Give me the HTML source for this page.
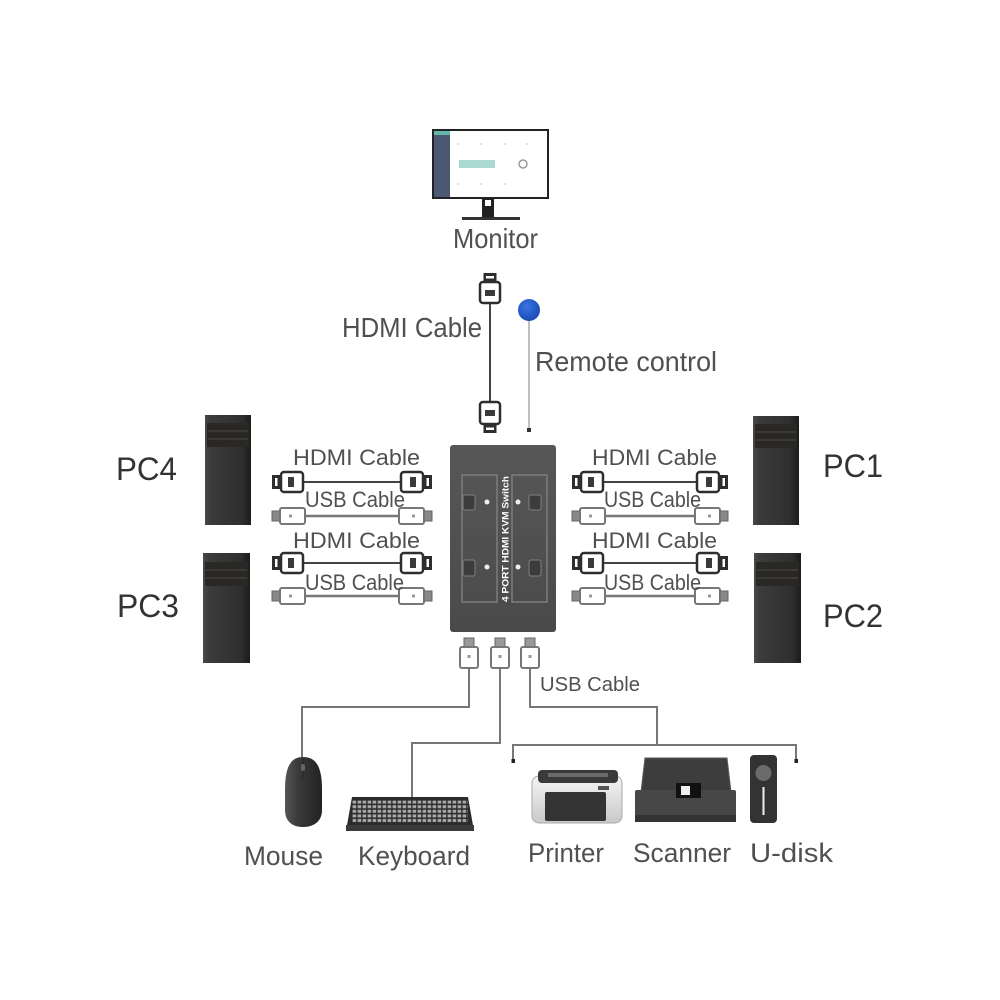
<!DOCTYPE html>
<html>
<head>
<meta charset="utf-8">
<style>
html,body{margin:0;padding:0;background:#fff;}
svg{display:block;}
text{font-family:"Liberation Sans",Arial,sans-serif;}
</style>
</head>
<body>
<svg width="1000" height="1000" viewBox="0 0 1000 1000" xmlns="http://www.w3.org/2000/svg">
<defs>
  <linearGradient id="tower" x1="0" y1="0" x2="1" y2="0">
    <stop offset="0" stop-color="#4a4a4a"/>
    <stop offset="0.12" stop-color="#3b3b3b"/>
    <stop offset="0.8" stop-color="#2f2f2f"/>
    <stop offset="1" stop-color="#1c1c1c"/>
  </linearGradient>
  <linearGradient id="kvm" x1="0" y1="0" x2="0" y2="1">
    <stop offset="0" stop-color="#575757"/>
    <stop offset="1" stop-color="#4a4a4a"/>
  </linearGradient>
  <linearGradient id="mouse" x1="0" y1="0" x2="1" y2="0">
    <stop offset="0" stop-color="#555"/>
    <stop offset="0.35" stop-color="#3a3a3a"/>
    <stop offset="1" stop-color="#222"/>
  </linearGradient>
  <linearGradient id="printer" x1="0" y1="0" x2="0" y2="1">
    <stop offset="0" stop-color="#f4f4f4"/>
    <stop offset="1" stop-color="#c9c9c9"/>
  </linearGradient>
  <radialGradient id="blue" cx="0.4" cy="0.35" r="0.7">
    <stop offset="0" stop-color="#3a74e0"/>
    <stop offset="1" stop-color="#1747b5"/>
  </radialGradient>
  <pattern id="keys" x="352" y="800" width="5" height="4.6" patternUnits="userSpaceOnUse">
    <rect x="0.6" y="0.6" width="3.6" height="3" fill="#a8a8a8"/>
  </pattern>
</defs>

<rect width="1000" height="1000" fill="#fff"/>

<!-- Monitor -->
<rect x="433" y="130" width="115" height="68" fill="#fff" stroke="#222" stroke-width="2"/>
<rect x="434" y="131" width="16" height="66" fill="#4d5873"/>
<rect x="434" y="131" width="16" height="4" fill="#62b9a9"/>
<g fill="#d6d6d6">
  <circle cx="458" cy="144" r="1"/><circle cx="481" cy="144" r="1"/><circle cx="505" cy="144" r="1"/><circle cx="527" cy="144" r="1"/>
  <circle cx="458" cy="184" r="1"/><circle cx="481" cy="184" r="1"/><circle cx="505" cy="184" r="1"/>
</g>
<rect x="459" y="160" width="36" height="8" fill="#a9d9cf"/>
<circle cx="523" cy="164" r="4" fill="none" stroke="#999" stroke-width="1.5"/>
<rect x="482" y="198" width="12" height="20" fill="#222"/>
<rect x="485" y="200" width="6" height="6" fill="#fff"/>
<rect x="462" y="217" width="58" height="3" fill="#333"/>
<text x="453" y="248" font-size="28" fill="#505050" textLength="85" lengthAdjust="spacingAndGlyphs">Monitor</text>

<!-- Top HDMI cable -->
<line x1="490" y1="303" x2="490" y2="402" stroke="#444" stroke-width="2"/>
<rect x="483.5" y="273" width="13" height="9" fill="#2e2e2e"/>
<rect x="486" y="276" width="8" height="2.5" fill="#fff"/>
<rect x="480" y="282" width="20" height="21" rx="3" fill="#fff" stroke="#2e2e2e" stroke-width="2.5"/>
<rect x="485" y="290" width="10" height="6" fill="#3a3a3a"/>
<rect x="480" y="402" width="20" height="22" rx="3" fill="#fff" stroke="#2e2e2e" stroke-width="2.5"/>
<rect x="485" y="410" width="10" height="6" fill="#3a3a3a"/>
<rect x="483.5" y="424" width="13" height="9" fill="#2e2e2e"/>
<rect x="486" y="427.5" width="8" height="2.5" fill="#fff"/>
<text x="342" y="337" font-size="28" fill="#505050" textLength="140" lengthAdjust="spacingAndGlyphs">HDMI Cable</text>

<!-- Remote control -->
<line x1="529" y1="320" x2="529" y2="430" stroke="#aaa" stroke-width="1.5"/>
<rect x="527" y="428" width="4" height="4" fill="#333"/>
<circle cx="529" cy="310" r="11" fill="url(#blue)"/>
<text x="535" y="371" font-size="28" fill="#505050" textLength="182" lengthAdjust="spacingAndGlyphs">Remote control</text>

<!-- KVM box -->
<rect x="450" y="445" width="106" height="187" rx="3" fill="url(#kvm)"/>
<rect x="462" y="475" width="35" height="127" fill="none" stroke="#7c7c7c" stroke-width="1.5"/>
<rect x="512" y="475" width="35" height="127" fill="none" stroke="#7c7c7c" stroke-width="1.5"/>
<g fill="#3c3c3c" stroke="#808080" stroke-width="1">
  <rect x="463" y="495" width="12" height="15" rx="2"/>
  <rect x="463" y="560" width="12" height="16" rx="2"/>
  <rect x="529" y="495" width="12" height="15" rx="2"/>
  <rect x="529" y="560" width="12" height="16" rx="2"/>
</g>
<g fill="#eee">
  <circle cx="487" cy="502" r="2.5"/><circle cx="518" cy="502" r="2.5"/>
  <circle cx="487" cy="567" r="2.5"/><circle cx="518" cy="567" r="2.5"/>
</g>
<text x="0" y="0" font-size="9" font-weight="bold" fill="#fff" textLength="126" lengthAdjust="spacingAndGlyphs" transform="translate(508.5,602) rotate(-90)">4 PORT HDMI KVM Switch</text>

<!-- PC towers -->
<g>
  <rect x="205" y="415" width="46" height="110" fill="url(#tower)"/>
  <rect x="207" y="423" width="42" height="24" fill="#2a2825"/>
  <line x1="208" y1="431" x2="248" y2="431" stroke="#4a4a4a" stroke-width="1"/>
  <line x1="208" y1="439" x2="248" y2="439" stroke="#4a4a4a" stroke-width="1"/>
  <rect x="203" y="553" width="47" height="110" fill="url(#tower)"/>
  <rect x="205" y="562" width="43" height="24" fill="#2a2825"/>
  <line x1="206" y1="570" x2="247" y2="570" stroke="#4a4a4a" stroke-width="1"/>
  <line x1="206" y1="578" x2="247" y2="578" stroke="#4a4a4a" stroke-width="1"/>
  <rect x="753" y="416" width="46" height="109" fill="url(#tower)"/>
  <rect x="755" y="424" width="42" height="24" fill="#2a2825"/>
  <line x1="756" y1="432" x2="796" y2="432" stroke="#4a4a4a" stroke-width="1"/>
  <line x1="756" y1="440" x2="796" y2="440" stroke="#4a4a4a" stroke-width="1"/>
  <rect x="754" y="553" width="47" height="110" fill="url(#tower)"/>
  <rect x="756" y="562" width="43" height="24" fill="#2a2825"/>
  <line x1="757" y1="570" x2="798" y2="570" stroke="#4a4a4a" stroke-width="1"/>
  <line x1="757" y1="578" x2="798" y2="578" stroke="#4a4a4a" stroke-width="1"/>
</g>
<text x="116" y="480" font-size="32" fill="#333" textLength="61" lengthAdjust="spacingAndGlyphs">PC4</text>
<text x="117" y="617" font-size="32" fill="#333" textLength="62" lengthAdjust="spacingAndGlyphs">PC3</text>
<text x="823" y="477" font-size="32" fill="#333" textLength="60" lengthAdjust="spacingAndGlyphs">PC1</text>
<text x="823" y="627" font-size="32" fill="#333" textLength="60" lengthAdjust="spacingAndGlyphs">PC2</text>

<!-- Left side cables -->
<g>
  <line x1="303" y1="482" x2="401" y2="482" stroke="#444" stroke-width="2"/>
  <rect x="272" y="475" width="9" height="14" fill="#2e2e2e"/><rect x="275" y="478" width="2.5" height="8" fill="#fff"/>
  <rect x="281" y="472" width="22" height="20" rx="3" fill="#fff" stroke="#2e2e2e" stroke-width="2.5"/><rect x="288" y="477" width="6" height="10" fill="#3a3a3a"/>
  <rect x="401" y="472" width="22" height="20" rx="3" fill="#fff" stroke="#2e2e2e" stroke-width="2.5"/><rect x="410" y="477" width="6" height="10" fill="#3a3a3a"/>
  <rect x="423" y="475" width="9" height="14" fill="#2e2e2e"/><rect x="426.5" y="478" width="2.5" height="8" fill="#fff"/>

  <line x1="305" y1="516" x2="399" y2="516" stroke="#777" stroke-width="2.5"/>
  <rect x="272" y="511" width="8" height="10" fill="#888" stroke="#666" stroke-width="1"/>
  <rect x="280" y="508" width="25" height="16" rx="2" fill="#fff" stroke="#777" stroke-width="2"/><rect x="289" y="514.5" width="3" height="3" fill="#999"/>
  <rect x="399" y="508" width="25" height="16" rx="2" fill="#fff" stroke="#777" stroke-width="2"/><rect x="412" y="514.5" width="3" height="3" fill="#999"/>
  <rect x="424" y="511" width="8" height="10" fill="#888" stroke="#666" stroke-width="1"/>

  <line x1="303" y1="563" x2="401" y2="563" stroke="#444" stroke-width="2"/>
  <rect x="272" y="556" width="9" height="14" fill="#2e2e2e"/><rect x="275" y="559" width="2.5" height="8" fill="#fff"/>
  <rect x="281" y="553" width="22" height="20" rx="3" fill="#fff" stroke="#2e2e2e" stroke-width="2.5"/><rect x="288" y="558" width="6" height="10" fill="#3a3a3a"/>
  <rect x="401" y="553" width="22" height="20" rx="3" fill="#fff" stroke="#2e2e2e" stroke-width="2.5"/><rect x="410" y="558" width="6" height="10" fill="#3a3a3a"/>
  <rect x="423" y="556" width="9" height="14" fill="#2e2e2e"/><rect x="426.5" y="559" width="2.5" height="8" fill="#fff"/>

  <line x1="305" y1="596" x2="399" y2="596" stroke="#777" stroke-width="2.5"/>
  <rect x="272" y="591" width="8" height="10" fill="#888" stroke="#666" stroke-width="1"/>
  <rect x="280" y="588" width="25" height="16" rx="2" fill="#fff" stroke="#777" stroke-width="2"/><rect x="289" y="594.5" width="3" height="3" fill="#999"/>
  <rect x="399" y="588" width="25" height="16" rx="2" fill="#fff" stroke="#777" stroke-width="2"/><rect x="412" y="594.5" width="3" height="3" fill="#999"/>
  <rect x="424" y="591" width="8" height="10" fill="#888" stroke="#666" stroke-width="1"/>
</g>
<text x="293" y="465" font-size="22" fill="#505050" textLength="127" lengthAdjust="spacingAndGlyphs">HDMI Cable</text>
<text x="305" y="507" font-size="22" fill="#505050" textLength="100" lengthAdjust="spacingAndGlyphs">USB Cable</text>
<text x="293" y="548" font-size="22" fill="#505050" textLength="127" lengthAdjust="spacingAndGlyphs">HDMI Cable</text>
<text x="305" y="590" font-size="22" fill="#505050" textLength="99" lengthAdjust="spacingAndGlyphs">USB Cable</text>

<!-- Right side cables -->
<g>
  <line x1="603" y1="482" x2="697" y2="482" stroke="#444" stroke-width="2"/>
  <rect x="572" y="475" width="9" height="14" fill="#2e2e2e"/><rect x="575" y="478" width="2.5" height="8" fill="#fff"/>
  <rect x="581" y="472" width="22" height="20" rx="3" fill="#fff" stroke="#2e2e2e" stroke-width="2.5"/><rect x="588" y="477" width="6" height="10" fill="#3a3a3a"/>
  <rect x="697" y="472" width="22" height="20" rx="3" fill="#fff" stroke="#2e2e2e" stroke-width="2.5"/><rect x="706" y="477" width="6" height="10" fill="#3a3a3a"/>
  <rect x="719" y="475" width="9" height="14" fill="#2e2e2e"/><rect x="722.5" y="478" width="2.5" height="8" fill="#fff"/>

  <line x1="605" y1="516" x2="695" y2="516" stroke="#777" stroke-width="2.5"/>
  <rect x="572" y="511" width="8" height="10" fill="#888" stroke="#666" stroke-width="1"/>
  <rect x="580" y="508" width="25" height="16" rx="2" fill="#fff" stroke="#777" stroke-width="2"/><rect x="589" y="514.5" width="3" height="3" fill="#999"/>
  <rect x="695" y="508" width="25" height="16" rx="2" fill="#fff" stroke="#777" stroke-width="2"/><rect x="708" y="514.5" width="3" height="3" fill="#999"/>
  <rect x="720" y="511" width="8" height="10" fill="#888" stroke="#666" stroke-width="1"/>

  <line x1="603" y1="563" x2="697" y2="563" stroke="#444" stroke-width="2"/>
  <rect x="572" y="556" width="9" height="14" fill="#2e2e2e"/><rect x="575" y="559" width="2.5" height="8" fill="#fff"/>
  <rect x="581" y="553" width="22" height="20" rx="3" fill="#fff" stroke="#2e2e2e" stroke-width="2.5"/><rect x="588" y="558" width="6" height="10" fill="#3a3a3a"/>
  <rect x="697" y="553" width="22" height="20" rx="3" fill="#fff" stroke="#2e2e2e" stroke-width="2.5"/><rect x="706" y="558" width="6" height="10" fill="#3a3a3a"/>
  <rect x="719" y="556" width="9" height="14" fill="#2e2e2e"/><rect x="722.5" y="559" width="2.5" height="8" fill="#fff"/>

  <line x1="605" y1="596" x2="695" y2="596" stroke="#777" stroke-width="2.5"/>
  <rect x="572" y="591" width="8" height="10" fill="#888" stroke="#666" stroke-width="1"/>
  <rect x="580" y="588" width="25" height="16" rx="2" fill="#fff" stroke="#777" stroke-width="2"/><rect x="589" y="594.5" width="3" height="3" fill="#999"/>
  <rect x="695" y="588" width="25" height="16" rx="2" fill="#fff" stroke="#777" stroke-width="2"/><rect x="708" y="594.5" width="3" height="3" fill="#999"/>
  <rect x="720" y="591" width="8" height="10" fill="#888" stroke="#666" stroke-width="1"/>
</g>
<text x="592" y="465" font-size="22" fill="#505050" textLength="125" lengthAdjust="spacingAndGlyphs">HDMI Cable</text>
<text x="604" y="507" font-size="22" fill="#505050" textLength="97" lengthAdjust="spacingAndGlyphs">USB Cable</text>
<text x="592" y="548" font-size="22" fill="#505050" textLength="125" lengthAdjust="spacingAndGlyphs">HDMI Cable</text>
<text x="604" y="590" font-size="22" fill="#505050" textLength="97" lengthAdjust="spacingAndGlyphs">USB Cable</text>

<!-- Bottom USB connectors -->
<g>
  <rect x="464" y="638" width="10" height="9" fill="#999" stroke="#666" stroke-width="1"/>
  <rect x="460" y="647" width="18" height="21" rx="2" fill="#fff" stroke="#777" stroke-width="2"/><rect x="467.5" y="655" width="3" height="3" fill="#999"/>
  <rect x="495" y="638" width="10" height="9" fill="#999" stroke="#666" stroke-width="1"/>
  <rect x="491" y="647" width="18" height="21" rx="2" fill="#fff" stroke="#777" stroke-width="2"/><rect x="498.5" y="655" width="3" height="3" fill="#999"/>
  <rect x="525" y="638" width="10" height="9" fill="#999" stroke="#666" stroke-width="1"/>
  <rect x="521" y="647" width="18" height="21" rx="2" fill="#fff" stroke="#777" stroke-width="2"/><rect x="528.5" y="655" width="3" height="3" fill="#999"/>
</g>
<g fill="none" stroke="#777" stroke-width="2">
  <path d="M469,668 V707 H302 V758"/>
  <path d="M500,668 V743 H412 V798"/>
  <path d="M530,668 V707 H657 V745"/>
  <path d="M513,762 V745 H796 V762"/>
</g>
<rect x="511.5" y="759" width="3.5" height="4" fill="#222"/>
<rect x="794.5" y="759" width="3.5" height="4" fill="#222"/>
<text x="540" y="691" font-size="20" fill="#505050" textLength="100" lengthAdjust="spacingAndGlyphs">USB Cable</text>

<!-- Mouse -->
<path d="M303,757 C318,757 322,770 322,790 L322,810 C322,822 313,827 303,827 C293,827 285,822 285,810 L285,790 C285,770 289,757 303,757 Z" fill="url(#mouse)"/>
<line x1="303" y1="758" x2="303" y2="778" stroke="#222" stroke-width="1"/>
<rect x="301" y="764" width="4" height="7" rx="2" fill="#666"/>

<!-- Keyboard -->
<path d="M352,797 L468,797 L474,831 L346,831 Z" fill="#2c2c2c"/>
<rect x="352" y="800" width="116" height="23" fill="url(#keys)"/>
<rect x="346" y="825" width="128" height="6" fill="#3a3a3a"/>

<!-- Printer -->
<rect x="532" y="776" width="90" height="47" rx="7" fill="url(#printer)" stroke="#aaa" stroke-width="1"/>
<rect x="538" y="770" width="80" height="13" rx="4" fill="#3a3a3a"/>
<rect x="548" y="773" width="60" height="4" fill="#6a6a6a"/>
<rect x="545" y="792" width="61" height="29" rx="2" fill="#343434"/>
<rect x="598" y="786" width="11" height="4" fill="#555"/>

<!-- Scanner -->
<path d="M645,758 L727,758 L731,792 L641,792 Z" fill="#3d3d3d" stroke="#5a5a5a" stroke-width="1"/>
<rect x="635" y="790" width="101" height="32" rx="2" fill="#474747"/>
<rect x="635" y="815" width="101" height="7" fill="#333"/>
<rect x="676" y="783" width="25" height="15" fill="#111"/>
<rect x="681" y="786" width="9" height="9" fill="#eee"/>

<!-- U-disk -->
<rect x="750" y="755" width="27" height="68" rx="4" fill="#333"/>
<circle cx="763.5" cy="773" r="8" fill="#6b6b6b"/>
<line x1="763.5" y1="787" x2="763.5" y2="815" stroke="#eee" stroke-width="2"/>

<!-- Bottom labels -->
<text x="244" y="865" font-size="27" fill="#505050" textLength="79" lengthAdjust="spacingAndGlyphs">Mouse</text>
<text x="358" y="865" font-size="27" fill="#505050" textLength="112" lengthAdjust="spacingAndGlyphs">Keyboard</text>
<text x="528" y="862" font-size="27" fill="#505050" textLength="76" lengthAdjust="spacingAndGlyphs">Printer</text>
<text x="633" y="862" font-size="27" fill="#505050" textLength="98" lengthAdjust="spacingAndGlyphs">Scanner</text>
<text x="750" y="862" font-size="27" fill="#505050" textLength="83" lengthAdjust="spacingAndGlyphs">U-disk</text>
</svg>
</body>
</html>
